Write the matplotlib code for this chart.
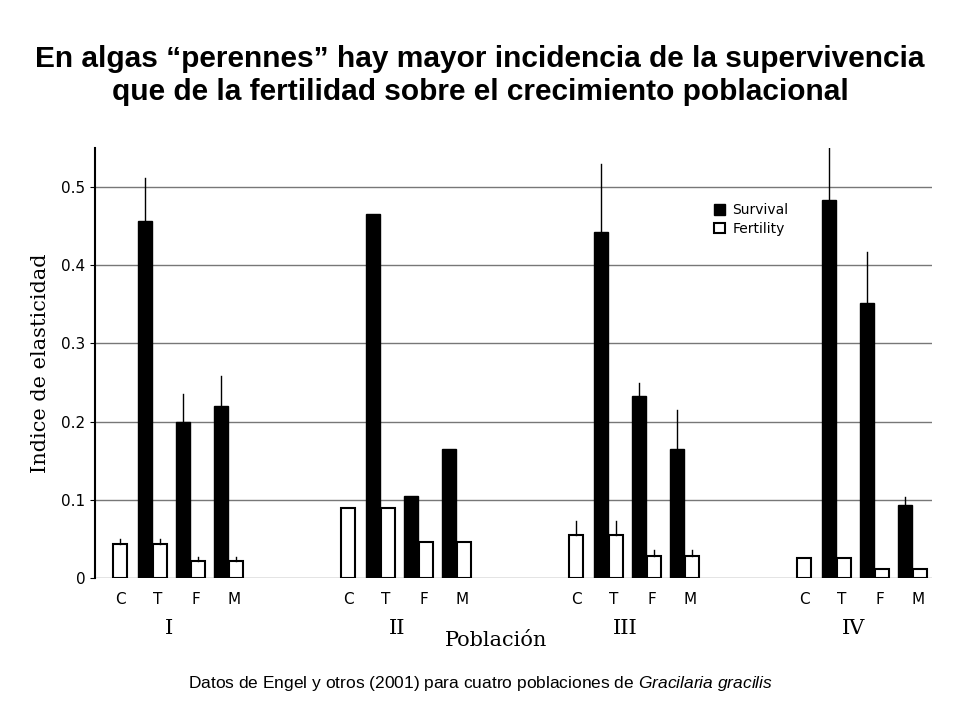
import matplotlib
matplotlib.use("Agg")
import matplotlib.pyplot as plt
import numpy as np
from matplotlib.patches import Patch

plt.rcParams["mathtext.fontset"] = "custom"
plt.rcParams["mathtext.it"] = "Liberation Sans:italic"
plt.rcParams["mathtext.rm"] = "Liberation Sans"

groups = ["I", "II", "III", "IV"]
cats = ["C", "T", "F", "M"]
survival = [[None, 0.456, 0.200, 0.220],
            [None, 0.465, 0.105, 0.165],
            [None, 0.443, 0.233, 0.165],
            [None, 0.483, 0.352, 0.094]]
survival_err = [[None, 0.055, 0.035, 0.038],
                [None, 0, 0, 0],
                [None, 0.087, 0.017, 0.050],
                [None, 0.072, 0.065, 0.009]]
fertility = [[0.043, 0.043, 0.022, 0.022],
             [0.090, 0.090, 0.046, 0.046],
             [0.055, 0.055, 0.028, 0.028],
             [0.025, 0.025, 0.012, 0.012]]
fertility_err = [[0.007, 0.007, 0.005, 0.005],
                 [0, 0, 0, 0],
                 [0.018, 0.018, 0.008, 0.008],
                 [0, 0, 0, 0]]

fig = plt.figure(figsize=(9.6, 7.2), dpi=100)
ax = fig.add_axes([95/960, 1-578/720, (932-95)/960, (578-148)/720])
w = 0.37
for g in range(4):
    for i in range(4):
        x = g*6 + i
        if survival[g][i] is not None:
            xs = x - 0.35
            ax.bar(xs, survival[g][i], w, color="black", edgecolor="black", zorder=3)
            if survival_err[g][i]:
                ax.plot([xs, xs], [survival[g][i], survival[g][i]+survival_err[g][i]], color="black", lw=1, zorder=3)
        xf = x + (0.05 if i > 0 else 0)
        ax.bar(xf, fertility[g][i], w, color="white", edgecolor="black", lw=1.5, zorder=3)
        if fertility_err[g][i]:
            ax.plot([xf, xf], [fertility[g][i], fertility[g][i]+fertility_err[g][i]], color="black", lw=1, zorder=3)

ax.set_xlim(-0.66, 21.37)
ax.set_ylim(0, 0.55)
ax.set_yticks([0, 0.1, 0.2, 0.3, 0.4, 0.5])
ax.set_yticklabels(["0", "0.1", "0.2", "0.3", "0.4", "0.5"], fontsize=11)
ax.yaxis.grid(True, color="#777777", lw=1, zorder=0)
for s in ["top", "right", "bottom"]:
    ax.spines[s].set_visible(False)
ax.spines["left"].set_linewidth(1.5)
ax.set_xticks([g*6+i for g in range(4) for i in range(4)])
ax.set_xticklabels(cats*4, fontsize=11)
ax.tick_params(axis="x", length=0, pad=10)
for g, lab in enumerate(groups):
    ax.text(g*6 + 1.3, -0.052, lab, ha="center", va="top", fontsize=15, family="DejaVu Serif")
ax.text(9.9, -0.068, "Población", ha="center", va="top", fontsize=15, family="DejaVu Serif")
ax.set_ylabel("Indice de elasticidad", fontsize=15, family="DejaVu Serif", labelpad=8)

ax.legend(handles=[Patch(facecolor="black", edgecolor="black"),
                   Patch(facecolor="white", edgecolor="black", lw=1.5)],
          labels=["Survival", "Fertility"], loc="upper left",
          bbox_to_anchor=(0.725, 0.9), frameon=False, fontsize=10,
          handlelength=0.8, handleheight=0.8, labelspacing=0.3, handletextpad=0.5)

fig.text(0.5, 0.895, "En algas \u201cperennes\u201d hay mayor incidencia de la supervivencia\nque de la fertilidad sobre el crecimiento poblacional",
         ha="center", va="center", fontsize=21.5, fontweight="bold", family="Liberation Sans", linespacing=1.25)
fig.text(0.5, 0.051, "Datos de Engel y otros (2001) para cuatro poblaciones de $Gracilaria\\ gracilis$",
         ha="center", va="center", fontsize=12.5, family="Liberation Sans")
fig.savefig("out.png", dpi=100)
